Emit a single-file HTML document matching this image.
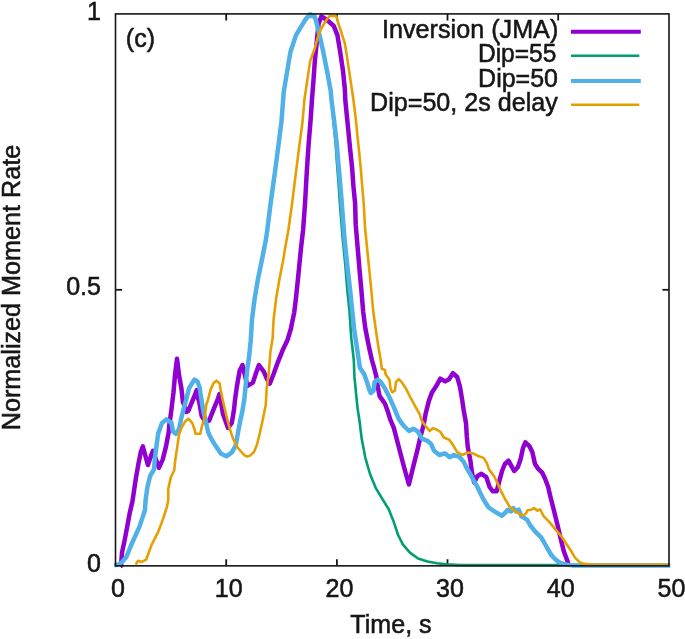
<!DOCTYPE html>
<html lang="en">
<head>
<meta charset="utf-8">
<title>Normalized Moment Rate (c)</title>
<style>
html,body{margin:0;padding:0;background:#fff;}
body{width:685px;height:639px;overflow:hidden;}
svg{display:block;}
text{font-family:"Liberation Sans",sans-serif;font-size:25.8px;fill:#161616;stroke:#161616;stroke-width:0.55px;}
.c{fill:none;stroke-linejoin:round;stroke-linecap:butt;}
</style>
</head>
<body>
<svg width="685" height="639" viewBox="0 0 685 639">
<rect x="0" y="0" width="685" height="639" fill="#ffffff"/>
<g id="ticks" stroke="#161616" stroke-width="1.8" fill="none"><line x1="226.2" y1="565.85" x2="226.2" y2="559.25"/><line x1="226.2" y1="13.9" x2="226.2" y2="20.5"/><line x1="336.9" y1="565.85" x2="336.9" y2="559.25"/><line x1="336.9" y1="13.9" x2="336.9" y2="20.5"/><line x1="447.5" y1="565.85" x2="447.5" y2="559.25"/><line x1="447.5" y1="13.9" x2="447.5" y2="20.5"/><line x1="558.2" y1="565.85" x2="558.2" y2="559.25"/><line x1="558.2" y1="13.9" x2="558.2" y2="20.5"/><line x1="115.5" y1="289.8" x2="122.1" y2="289.8"/><line x1="669.0" y1="289.8" x2="662.4" y2="289.8"/></g>
<g id="curves">
<polyline class="c" stroke="#9000d0" stroke-width="4.5" points="120.3,566.5 121.0,566.0 122.0,552.6 124.8,539.4 127.5,525.2 129.7,513.1 132.5,501.0 135.9,478.2 138.6,462.9 140.8,451.9 142.8,446.4 145.2,455.2 147.9,465.0 151.2,455.2 152.9,450.8 158.9,467.8 162.7,459.6 166.0,446.4 168.7,432.2 169.2,426.1 171.4,409.7 173.5,392.2 175.0,375.0 177.0,358.8 179.0,375.0 181.4,388.3 182.9,402.0 184.6,405.9 186.5,412.0 188.3,410.8 193.8,397.7 196.7,390.0 198.2,398.8 199.4,402.6 200.9,411.9 201.6,415.7 205.5,422.0 209.1,420.7 213.5,409.7 217.9,398.8 219.5,394.0 223.0,414.1 228.0,428.0 231.8,422.9 234.0,409.7 235.0,400.0 236.8,387.0 239.7,370.5 242.5,365.0 247.4,385.9 252.9,382.6 256.1,372.7 258.9,365.0 263.8,371.6 267.1,379.3 269.8,383.7 273.7,373.8 278.0,361.8 282.4,350.8 287.5,340.0 290.8,329.0 294.2,312.6 295.9,298.8 297.7,281.6 299.4,264.4 301.1,247.2 303.1,230.0 305.1,202.6 306.8,171.6 308.5,145.8 310.6,120.0 312.0,99.0 313.5,80.2 314.8,61.4 316.7,42.6 318.6,23.8 321.4,16.3 327.0,20.0 333.6,25.7 337.4,35.1 340.2,52.0 343.0,70.8 344.9,89.6 345.3,100.0 347.0,117.2 348.7,134.4 350.4,151.6 352.2,168.8 353.4,186.0 355.1,203.3 355.7,224.4 357.6,247.0 359.5,269.5 361.4,290.2 363.2,312.0 365.4,328.8 369.1,347.6 371.9,360.0 374.1,367.7 376.3,376.4 377.9,387.4 379.6,396.1 385.0,403.8 387.8,411.5 390.5,420.2 393.8,427.9 399.3,449.0 404.4,468.5 408.9,484.5 413.1,467.1 417.5,449.6 420.8,435.3 423.5,425.5 425.5,414.3 428.8,401.1 432.0,392.4 436.4,385.8 440.3,378.7 445.2,381.4 449.0,379.2 452.9,373.2 457.2,377.0 460.0,386.9 462.2,400.0 463.8,411.0 466.0,423.0 466.8,436.4 467.7,446.4 470.4,460.7 472.0,472.7 474.2,482.6 477.5,476.0 481.4,473.8 486.3,477.1 489.6,487.0 492.9,491.3 496.7,491.3 498.9,482.6 502.2,470.5 504.9,464.0 508.5,460.7 511.5,466.1 514.2,471.0 517.8,467.2 520.5,459.6 523.0,448.0 525.4,442.3 529.6,446.4 532.3,451.9 535.0,464.0 537.8,468.3 542.2,472.7 544.9,478.2 548.2,487.0 550.0,495.0 553.8,510.0 557.5,525.0 560.7,538.8 563.8,551.3 567.5,561.3 568.6,565.0"/>
<polyline class="c" stroke="#009e73" stroke-width="2.6" points="114.4,565.3 118.0,564.8 122.0,562.0 126.4,557.0 130.8,546.0 135.2,536.1 139.6,526.3 142.9,516.4 145.0,509.9 145.6,500.0 147.4,487.0 150.1,476.0 154.0,469.4 155.0,457.4 156.7,444.2 158.2,433.5 162.0,422.9 166.4,419.4 171.4,422.9 173.0,431.6 175.7,433.8 179.0,429.4 181.2,418.5 184.0,407.5 186.5,398.5 189.0,388.3 192.9,381.8 194.5,379.6 197.5,381.5 199.5,387.0 201.5,400.0 203.5,411.9 205.9,421.8 208.0,431.6 209.9,436.0 213.5,442.6 216.4,447.0 220.8,453.5 226.3,456.3 231.8,452.4 235.6,445.9 237.8,433.8 240.0,421.8 242.2,411.9 244.4,398.8 245.7,384.8 247.4,368.3 249.0,357.4 250.7,341.0 252.0,319.5 254.6,298.8 258.1,278.2 262.4,257.5 265.8,240.3 267.3,230.0 270.7,202.6 275.0,171.6 278.4,145.8 281.4,122.0 283.8,91.5 287.6,68.9 290.4,52.0 296.0,35.1 301.7,25.7 305.5,19.5 309.0,13.9 311.5,13.9 316.0,20.5 317.5,27.0 319.5,35.1 323.3,52.0 327.0,70.8 330.8,91.5 333.3,120.7 335.6,143.0 337.0,163.7 338.5,182.6 339.9,203.3 342.6,237.6 345.4,265.8 347.3,290.2 349.4,310.0 351.3,338.2 353.8,360.0 354.4,376.4 356.0,392.9 357.7,409.3 359.4,420.0 361.7,438.8 365.3,457.6 370.0,474.0 375.8,488.1 382.9,499.8 388.7,509.2 393.4,520.9 398.1,535.0 402.8,544.4 409.9,552.6 418.1,558.5 427.5,561.5 436.9,563.2 446.2,564.4 460.0,565.1 669.0,565.1"/>
<polyline class="c" stroke="#50b0e8" stroke-width="4.5" points="114.4,565.3 118.0,564.8 122.0,562.0 126.4,557.0 130.8,546.0 135.2,536.1 139.6,526.3 142.9,516.4 145.0,509.9 145.6,500.0 147.4,487.0 150.1,476.0 154.0,469.4 155.0,457.4 156.7,444.2 158.2,433.5 162.0,422.9 166.4,419.4 171.4,422.9 173.0,431.6 175.7,433.8 179.0,429.4 181.2,418.5 184.0,407.5 186.5,398.5 189.0,388.3 192.9,381.8 194.5,379.6 197.5,381.5 199.5,387.0 201.5,400.0 203.5,411.9 205.9,421.8 208.0,431.6 209.9,436.0 213.5,442.6 216.4,447.0 220.8,453.5 226.3,456.3 231.8,452.4 235.6,445.9 237.8,433.8 240.0,421.8 242.2,411.9 244.4,398.8 245.7,384.8 247.4,368.3 249.0,357.4 250.7,341.0 252.0,319.5 254.6,298.8 258.1,278.2 262.4,257.5 265.8,240.3 267.3,230.0 270.7,202.6 275.0,171.6 278.4,145.8 281.4,122.0 283.8,91.5 287.6,68.9 290.4,52.0 296.0,35.1 301.7,25.7 305.5,19.5 308.4,15.9 314.4,15.9 316.0,20.5 317.5,27.0 319.5,35.1 323.3,52.0 327.0,70.8 330.8,91.5 331.5,100.0 334.1,120.7 336.7,143.0 338.4,163.7 340.1,182.6 341.8,203.3 344.4,237.6 347.3,265.8 350.1,290.2 352.5,313.0 354.1,328.8 356.9,347.6 358.8,360.0 359.9,367.7 364.2,374.2 367.0,381.9 369.2,389.6 370.8,392.9 373.5,390.7 374.6,381.9 377.4,379.7 380.7,381.9 385.0,388.5 389.4,397.2 393.8,407.1 398.3,418.0 401.5,423.0 404.4,426.5 409.0,431.0 413.3,428.7 417.8,431.5 421.9,438.6 427.4,440.8 431.2,444.1 434.0,450.7 439.4,455.0 444.9,453.4 449.8,457.2 453.7,455.0 459.1,456.7 463.5,461.6 466.8,468.2 470.0,473.7 473.1,479.3 477.5,487.0 478.8,490.0 483.1,498.8 488.6,507.5 495.2,511.9 501.8,515.7 505.0,513.0 507.8,509.7 511.1,511.4 513.3,508.1 516.0,511.4 518.7,509.7 521.5,516.3 527.0,519.6 530.0,525.0 535.0,531.3 541.3,537.6 546.3,546.3 551.3,555.1 555.3,559.3 558.2,561.7 561.9,563.5 567.0,564.6 572.0,565.4 670.3,565.5"/>
<polyline class="c" stroke="#e69f00" stroke-width="2.6" points="135.7,564.6 137.9,560.8 141.8,561.9 146.1,559.7 148.3,553.7 151.6,544.9 155.5,537.2 158.2,531.8 162.0,521.9 164.2,515.3 167.0,506.6 168.3,500.0 168.2,489.1 170.9,477.1 174.2,470.5 175.3,459.6 177.4,446.0 179.0,434.5 181.8,427.2 185.0,421.8 188.3,418.7 192.2,422.9 194.9,430.5 195.5,433.8 200.4,433.8 202.0,426.1 204.8,416.3 206.4,404.2 207.5,401.5 210.6,389.6 213.7,382.9 216.4,380.7 219.7,383.4 220.6,390.0 223.0,401.0 226.3,415.2 229.6,428.3 232.9,438.2 237.2,447.0 242.7,453.5 245.0,455.6 247.1,456.5 250.3,455.4 253.7,452.4 257.0,444.8 259.7,433.8 263.0,418.5 265.7,405.3 266.7,388.0 268.7,373.8 270.4,351.9 272.6,338.8 273.6,319.5 276.1,298.8 279.6,278.2 283.0,261.0 285.6,245.5 288.4,230.0 292.2,202.6 295.6,175.1 299.1,147.5 302.5,122.0 304.5,99.0 307.3,80.2 310.1,61.4 314.8,48.2 318.6,34.5 321.3,28.6 324.8,22.5 327.5,18.5 329.6,16.0 336.0,16.0 337.4,19.5 338.3,23.5 340.5,29.5 343.2,38.3 344.9,43.5 347.7,61.4 350.5,80.2 353.3,99.0 355.6,117.2 357.3,134.4 359.1,151.6 360.8,168.8 362.2,186.0 363.7,203.3 365.1,228.2 367.9,256.4 370.8,284.6 373.2,311.0 375.7,328.8 378.5,347.6 380.7,360.0 381.8,368.8 385.0,369.9 385.6,374.2 389.4,379.7 390.5,388.5 392.2,392.3 394.9,390.7 396.0,381.9 398.7,379.2 401.5,381.9 405.9,388.5 410.2,397.2 415.7,407.1 420.0,414.8 421.4,420.0 425.2,425.5 429.6,431.0 432.9,428.2 436.1,429.3 440.5,432.0 443.8,437.5 449.3,439.7 453.1,445.2 457.0,451.8 462.4,455.0 466.8,452.9 468.8,452.5 473.1,453.5 477.5,455.7 483.5,457.9 486.8,462.9 489.0,469.4 494.0,476.0 497.8,483.7 501.1,491.3 505.0,498.8 509.4,506.4 516.0,511.9 523.1,515.7 525.9,513.5 527.5,510.3 531.3,509.7 534.1,508.1 537.5,510.6 540.0,509.4 543.8,516.3 548.8,521.3 555.0,528.8 561.3,536.3 566.3,543.8 571.3,551.3 575.0,557.6 580.0,562.6 584.0,563.9 592.5,564.5 669.5,564.7"/>
</g>
<g id="axes" stroke="#161616" stroke-width="1.6" fill="none">
<rect x="115.5" y="13.9" width="553.5" height="551.95"/>
</g>
<g id="xlabels"><text transform="translate(118.0,596.7) scale(0.972,1)" text-anchor="middle">0</text><text transform="translate(228.7,596.7) scale(0.972,1)" text-anchor="middle">10</text><text transform="translate(339.4,596.7) scale(0.972,1)" text-anchor="middle">20</text><text transform="translate(450.0,596.7) scale(0.972,1)" text-anchor="middle">30</text><text transform="translate(560.7,596.7) scale(0.972,1)" text-anchor="middle">40</text><text transform="translate(671.5,596.7) scale(0.972,1)" text-anchor="middle">50</text></g>
<g id="ylabels"><text transform="translate(101.0,20.4) scale(0.972,1)" text-anchor="end">1</text><text transform="translate(101.0,295.4) scale(0.972,1)" text-anchor="end">0.5</text><text transform="translate(101.0,572.0) scale(0.972,1)" text-anchor="end">0</text></g>
<g id="legend"><text transform="translate(558.3,37.9) scale(0.976,1)" text-anchor="end">Inversion (JMA)</text><line x1="571" y1="31.8" x2="640.8" y2="31.8" stroke="#9000d0" stroke-width="4"/><text transform="translate(556.4,62.3) scale(0.952,1)" text-anchor="end">Dip=55</text><line x1="571" y1="55.7" x2="639.3" y2="55.7" stroke="#009e73" stroke-width="2.5"/><text transform="translate(558.0,86.7) scale(0.969,1)" text-anchor="end">Dip=50</text><line x1="571" y1="80.9" x2="640.8" y2="80.9" stroke="#50b0e8" stroke-width="4"/><text transform="translate(557.7,111.1) scale(0.973,1)" text-anchor="end">Dip=50, 2s delay</text><line x1="571" y1="104.8" x2="639.3" y2="104.8" stroke="#e69f00" stroke-width="2.5"/></g>
<text transform="translate(125.8,47.3) scale(0.972,1)" text-anchor="start">(c)</text>
<text transform="translate(391.0,633.0) scale(0.972,1)" text-anchor="middle">Time, s</text>
<text transform="translate(20.4,287.5) rotate(-90) scale(0.976,1)" text-anchor="middle">Normalized Moment Rate</text>
</svg>
</body>
</html>
